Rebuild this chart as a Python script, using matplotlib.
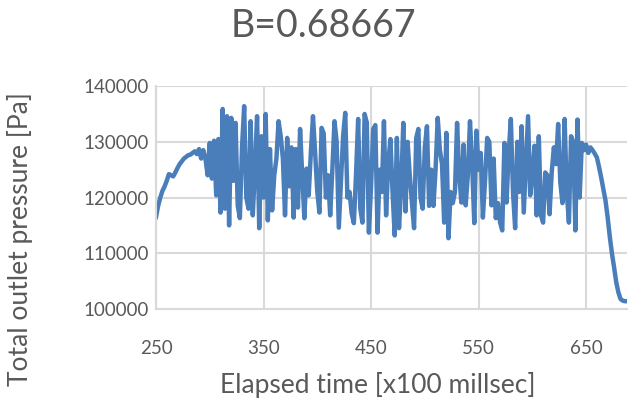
import matplotlib
matplotlib.use('Agg')
import matplotlib.pyplot as plt
import numpy as np

plt.rcParams['font.family'] = ['Lato', 'DejaVu Sans']

# 数据: 每 2 个单位 (x100 millsec) 一个点, 从 250 开始
t_start = 250
t_step = 2
pressure = [
    # 250 - 294 升压段
    116500, 118500, 120000, 121200, 122000, 123000, 124200, 124000, 123800, 124500,
    125300, 126000, 126500, 127000, 127300, 127600, 127700, 128000, 128300, 127800,
    128700, 127000, 128500,
    # 296 - 348
    127000, 124000, 129800, 123400, 130200, 120400, 130500, 117300, 135900, 118000,
    134600, 115000, 134300, 123000, 133400, 118600, 116300, 129000, 136400, 120000,
    118000, 133700, 116800, 125000, 134600, 114500, 131000,
    # 350 - 408
    120000, 135000, 115900, 128700, 117700, 124000, 127000, 133700, 131000, 127000,
    116800, 130700, 122000, 129000, 116400, 128700, 118200, 132300, 124000, 116300,
    125200, 120400, 128000, 134600, 128000, 121000, 117300, 132500, 131500, 120000,
    # 410 - 466
    124000, 116800, 125000, 133700, 130000, 114600, 122700, 131000, 135200, 120000,
    121000, 117100, 115400, 124000, 134100, 118000, 115500, 135000, 133500, 113700,
    122000, 132300, 133000, 113700, 125000, 121000, 133700, 116800, 126200,
    # 468 - 526
    130500, 121000, 113200, 130700, 114500, 122000, 133400, 117500, 130000, 124000,
    119100, 114500, 130700, 132300, 120000, 118000, 129000, 132800, 118500, 125000,
    118500, 125000, 134300, 128500, 126000, 115500, 131600, 112700, 121000, 119000,
    # 528 - 586
    121000, 133400, 124000, 119100, 129500, 118600, 124000, 133700, 126000, 115400,
    132000, 125000, 128000, 116400, 123000, 130700, 130000, 118600, 127000, 116300,
    119000, 115500, 114100, 129800, 119100, 128000, 134100, 121000, 114500, 130000,
    # 588 - 688 (含降压段)
    121000, 132800, 117300, 126000, 134600, 120400, 124000, 129300, 116800, 131000,
    116800, 115500, 124500, 124000, 117000, 124500, 129000, 126000, 133200, 122700,
    119000, 134100, 121000, 115500, 131000, 130000, 114100, 134000, 120000, 129800,
    128500, 129500, 128000, 129000, 128500, 127900, 127200, 125500, 123600, 121500,
    119500, 116500, 113000, 110000, 107500, 104800, 103000, 101800, 101500, 101400,
    101400,
]
time = t_start + t_step * np.arange(len(pressure))

x_ticks = [250, 350, 450, 550, 650]
y_ticks = [100000, 110000, 120000, 130000, 140000]

TEXT = '#595959'
GRID = '#d9d9d9'
LINE = '#4a7ebb'

fig = plt.figure(figsize=(6.3, 4.09), dpi=100)
ax = fig.add_axes([0.2476, 0.2445, 0.7476, 0.545])

ax.plot(time, pressure, color=LINE, linewidth=3.2, solid_joinstyle='round')

ax.set_xlim(250, 688)
ax.set_ylim(100000, 140000)
ax.set_xticks(x_ticks)
ax.set_yticks(y_ticks)
ax.grid(True, color=GRID, linewidth=1.5)
ax.set_axisbelow(True)

for s in ['top', 'right']:
    ax.spines[s].set_visible(False)
for s in ['left', 'bottom']:
    ax.spines[s].set_color(GRID)
    ax.spines[s].set_linewidth(1.5)

ax.tick_params(axis='both', length=0, labelsize=13.5, labelcolor=TEXT)
ax.tick_params(axis='x', pad=22)
ax.tick_params(axis='y', pad=5)

# 标题居中于整个图
fig.text(0.513, 0.937, 'B=0.68667', fontsize=27, color=TEXT, ha='center', va='center')
ax.set_xlabel('Elapsed time [x100 millsec]', fontsize=19, color=TEXT)
ax.set_ylabel('Total outlet pressure [Pa]', fontsize=19, color=TEXT)
ax.xaxis.set_label_coords(0.47, -0.34)
ax.yaxis.set_label_coords(-0.288, 0.314)
ax.xaxis.label.set_va('center')
ax.yaxis.label.set_va('center')

fig.savefig('out.png', dpi=100, facecolor='white')
plt.close(fig)
